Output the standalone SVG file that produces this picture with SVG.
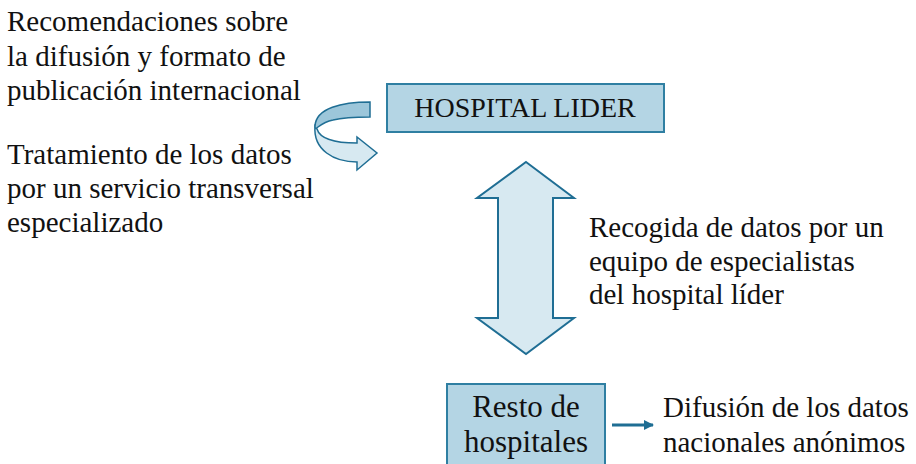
<svg xmlns="http://www.w3.org/2000/svg" width="916" height="464" viewBox="0 0 916 464">
<style>
text{font-family:'Liberation Serif','DejaVu Serif',serif;fill:#111;font-size:29px}
.box{fill:#b4d5e4;stroke:#2f7fa2;stroke-width:2}
.big{fill:#d7e9f1;stroke:#1f6e94;stroke-width:2;stroke-linejoin:miter}
.c{text-anchor:middle}
</style>
<defs>
<marker id="ah" markerWidth="10" markerHeight="10" refX="9" refY="5" orient="auto" markerUnits="userSpaceOnUse" viewBox="0 0 10 10">
<path d="M0,0 L10,5 L0,10 Z" fill="#1f6e94"/>
</marker>
</defs>
<rect width="916" height="464" fill="#fff"/>
<g id="text-recomendaciones" font-family="Liberation Serif, serif">
<text x="7" y="31">Recomendaciones sobre</text>
<text x="7" y="66">la difusión y formato de</text>
<text x="7" y="100">publicación internacional</text>
</g>
<g id="text-tratamiento">
<text x="7" y="164">Tratamiento de los datos</text>
<text x="7" y="198">por un servicio transversal</text>
<text x="7" y="232">especializado</text>
</g>
<g id="hospital-lider">
<rect class="box" x="387" y="84" width="277" height="48"/>
<text class="c" x="525" y="117" style="font-size:28px">HOSPITAL LIDER</text>
</g>
<g id="text-recogida">
<text x="589" y="237">Recogida de datos por un</text>
<text x="589" y="271">equipo de especialistas</text>
<text x="589" y="304">del hospital líder</text>
</g>
<g id="resto-hospitales">
<rect class="box" x="447" y="384" width="158" height="90"/>
<text class="c" x="526" y="417" style="font-size:31px">Resto de</text>
<text class="c" x="526" y="452" style="font-size:31px">hospitales</text>
</g>
<g id="text-difusion">
<text x="663" y="417">Difusión de los datos</text>
<text x="663" y="452">nacionales anónimos</text>
</g>
<g id="connectors">
<path class="big" d="M526,162 L574,198 L553,198 L553,318 L574,318 L526,354 L477,318 L498,318 L498,198 L477,198 Z"/>
<path d="M315,126 C313,150 334,162 357,162 L357,170 L377,153 L357,137 L357,143 C336,143 320,139 317,129 Z" fill="#d7e9f1" stroke="#1f6e94" stroke-width="1.5" stroke-linejoin="miter"/>
<path d="M370,102 C342,102 316,108 315,126 C315,133 318,123 333,120 C345,117 358,117 370,117 Z" fill="#9cc6da" stroke="#1f6e94" stroke-width="1.5"/>
<line x1="612" y1="425" x2="653" y2="425" stroke="#1f6e94" stroke-width="3" marker-end="url(#ah)"/>
</g>
</svg>
